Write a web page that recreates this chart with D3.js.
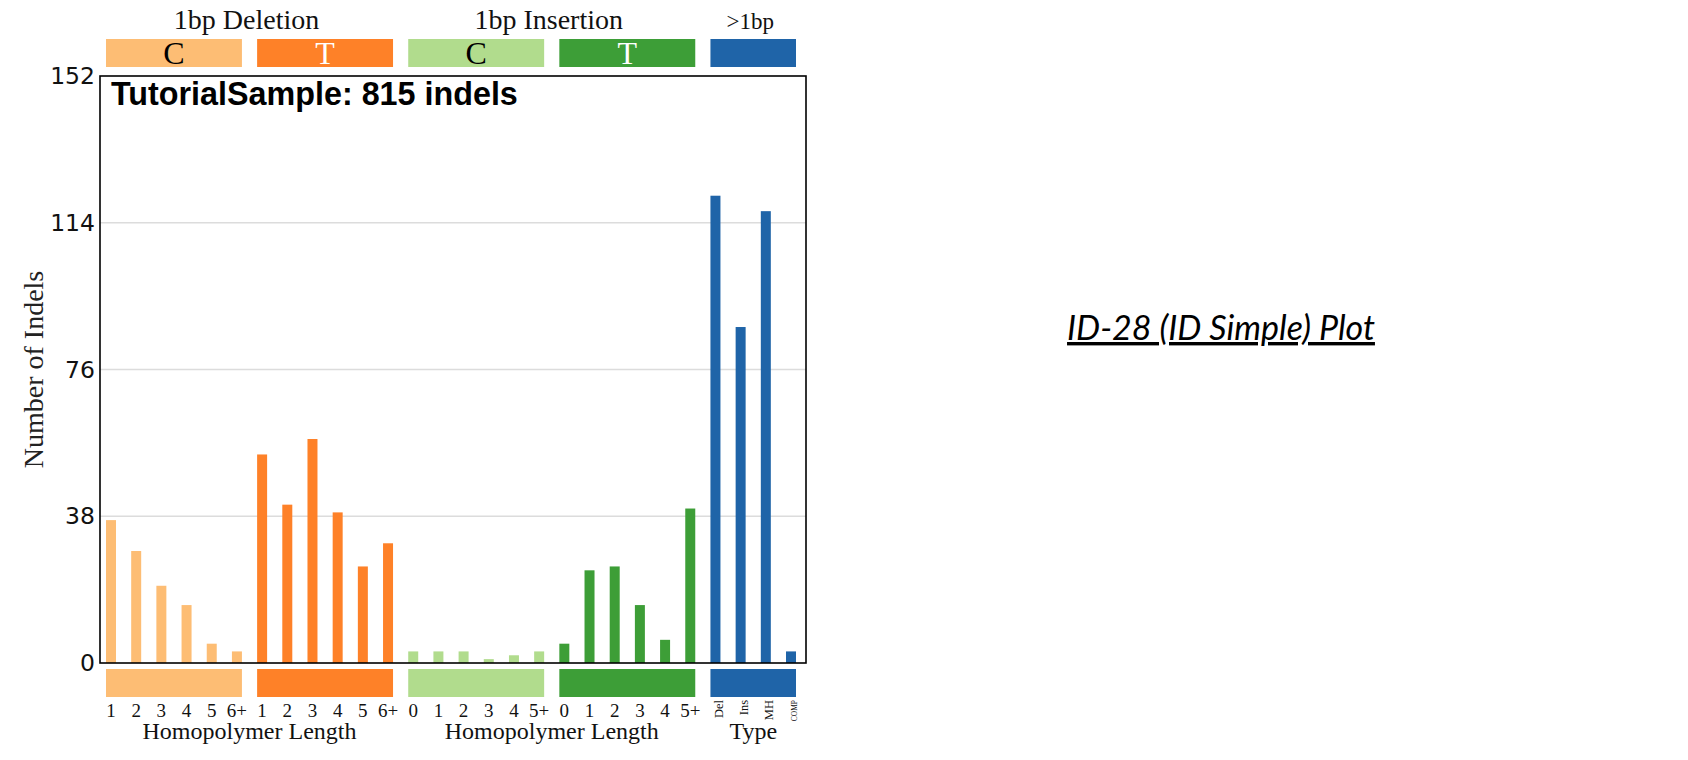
<!DOCTYPE html>
<html>
<head>
<meta charset="utf-8">
<script src="https://cdn.jsdelivr.net/npm/d3@7"></script>
<style>
    body { margin: 0; background: #fff; }
    svg { display: block; }
</style>
</head>
<body>
<svg id="chart" width="1688" height="760"></svg>
<script>
// ---- data ----
const sampleTitle = "TutorialSample: 815 indels";
const yTicks = [0, 38, 76, 114, 152];

const delCLabels = ["1", "2", "3", "4", "5", "6+"];
const delCValues = [37, 29, 20, 15, 5, 3];
const delTLabels = ["1", "2", "3", "4", "5", "6+"];
const delTValues = [54, 41, 58, 39, 25, 31];
const insCLabels = ["0", "1", "2", "3", "4", "5+"];
const insCValues = [3, 3, 3, 1, 2, 3];
const insTLabels = ["0", "1", "2", "3", "4", "5+"];
const insTValues = [5, 24, 25, 15, 6, 40];
const otherLabels = ["Del", "Ins", "MH", "COMP"];
const otherValues = [121, 87, 117, 3];

const groups = [
    { key: "delC", header: "C", labels: delCLabels, values: delCValues, color: "#fdbd74", text: "#000" },
    { key: "delT", header: "T", labels: delTLabels, values: delTValues, color: "#fe8128", text: "#fff" },
    { key: "insC", header: "C", labels: insCLabels, values: insCValues, color: "#b1dc8d", text: "#000" },
    { key: "insT", header: "T", labels: insTLabels, values: insTValues, color: "#3d9e37", text: "#fff" },
    { key: "other", header: "", labels: otherLabels, values: otherValues, color: "#1f64a8", text: "#fff" }
];

const superHeaders = [
    { text: "1bp Deletion", from: "delC", to: "delT", size: 28 },
    { text: "1bp Insertion", from: "insC", to: "insT", size: 28 },
    { text: ">1bp", from: "other", to: "other", size: 23 }
];
const xTitles = [
    { text: "Homopolymer Length", from: "delC", to: "delT" },
    { text: "Homopolymer Length", from: "insC", to: "insT" },
    { text: "Type", from: "other", to: "other" }
];

// flatten to one row per bar
let bars = [];
groups.forEach(g => {
    g.labels.forEach((lab, i) => {
        bars.push({ id: g.key + "_" + i, group: g.key, label: lab, value: g.values[i], color: g.color });
    });
});

// ---- layout ----
const frame = { left: 100, right: 806, top: 76, bottom: 663 };
const serif = "'Liberation Serif', 'Times New Roman', serif";

const svg = d3.select("#chart");

let x = d3.scaleBand()
    .domain(bars.map(d => d.id))
    .range([106, 796])
    .paddingInner(0.603)
    .paddingOuter(0);

let y = d3.scaleLinear()
    .domain([0, 152])
    .range([frame.bottom, frame.top]);

// grid lines
svg.append("g")
    .selectAll("line")
    .data(yTicks.filter(v => v > 0 && v < 152))
    .join("line")
    .attr("x1", frame.left)
    .attr("x2", frame.right)
    .attr("y1", d => y(d))
    .attr("y2", d => y(d))
    .attr("stroke", "#dcdcdc")
    .attr("stroke-width", 1.5);

// y axis labels
let yAxis = d3.axisLeft(y).tickValues(yTicks).tickSize(0).tickPadding(4);
let gY = svg.append("g")
    .attr("transform", `translate(${frame.left - 1},0)`)
    .call(yAxis);
gY.select(".domain").remove();
gY.selectAll("text")
    .attr("font-family", "'DejaVu Sans', sans-serif")
    .attr("font-size", "23.5px")
    .attr("fill", "#111");

// bars
svg.append("g")
    .selectAll("rect")
    .data(bars)
    .join("rect")
    .attr("x", d => x(d.id))
    .attr("width", x.bandwidth())
    .attr("y", d => y(d.value))
    .attr("height", d => y(0) - y(d.value))
    .attr("fill", d => d.color);

// frame
svg.append("rect")
    .attr("x", frame.left)
    .attr("y", frame.top)
    .attr("width", frame.right - frame.left)
    .attr("height", frame.bottom - frame.top)
    .attr("fill", "none")
    .attr("stroke", "#000")
    .attr("stroke-width", 1.6);

// group extents in pixels
function groupSpan(key) {
    let ids = bars.filter(b => b.group === key).map(b => b.id);
    return [x(ids[0]), x(ids[ids.length - 1]) + x.bandwidth()];
}

// coloured strips above and below
groups.forEach(g => {
    let [x0, x1] = groupSpan(g.key);
    [39, 669].forEach(top => {
        svg.append("rect")
            .attr("x", x0)
            .attr("y", top)
            .attr("width", x1 - x0)
            .attr("height", 28)
            .attr("fill", g.color);
    });
    if (g.header) {
        svg.append("text")
            .attr("x", (x0 + x1) / 2)
            .attr("y", 64)
            .attr("text-anchor", "middle")
            .attr("font-family", serif)
            .attr("font-size", "32px")
            .attr("fill", g.text)
            .text(g.header);
    }
});

superHeaders.forEach(h => {
    let a = groupSpan(h.from), b = groupSpan(h.to);
    svg.append("text")
        .attr("x", (a[0] + b[1]) / 2 - 3)
        .attr("y", 29)
        .attr("text-anchor", "middle")
        .attr("font-family", serif)
        .attr("font-size", h.size + "px")
        .attr("fill", "#111")
        .text(h.text);
});

// tick labels under the strips
let tickRows = bars.filter(b => b.group !== "other");
svg.append("g")
    .selectAll("text")
    .data(tickRows)
    .join("text")
    .attr("x", d => x(d.id) + x.bandwidth() / 2)
    .attr("y", 717)
    .attr("text-anchor", "middle")
    .attr("font-family", serif)
    .attr("font-size", "19px")
    .attr("fill", "#111")
    .text(d => d.label);

// rotated type labels
svg.append("g")
    .selectAll("text")
    .data(bars.filter(b => b.group === "other"))
    .join("text")
    .attr("transform", d => `translate(${x(d.id) + x.bandwidth() / 2 + 3},700) rotate(-90)`)
    .attr("dy", "0.35em")
    .attr("text-anchor", "end")
    .attr("font-family", serif)
    .attr("font-size", d => d.label === "COMP" ? "7.5px" : "12.5px")
    .attr("fill", "#111")
    .text(d => d.label);

xTitles.forEach(t => {
    let a = groupSpan(t.from), b = groupSpan(t.to);
    svg.append("text")
        .attr("x", (a[0] + b[1]) / 2)
        .attr("y", 739)
        .attr("text-anchor", "middle")
        .attr("font-family", serif)
        .attr("font-size", "24px")
        .attr("fill", "#111")
        .text(t.text);
});

// y title
svg.append("text")
    .attr("transform", `translate(43,${(frame.top + frame.bottom) / 2}) rotate(-90)`)
    .attr("text-anchor", "middle")
    .attr("font-family", serif)
    .attr("font-size", "28px")
    .attr("fill", "#222")
    .text("Number of Indels");

// sample title inside the frame
svg.append("text")
    .attr("x", 111)
    .attr("y", 105)
    .attr("font-family", "'Liberation Sans', Arial, sans-serif")
    .attr("font-weight", "bold")
    .attr("font-size", "32.3px")
    .attr("fill", "#000")
    .text(sampleTitle);

// side caption
svg.append("text")
    .attr("x", 1221)
    .attr("y", 340)
    .attr("text-anchor", "middle")
    .attr("font-family", "Lato, 'Open Sans', sans-serif")
    .attr("font-style", "italic")
    .attr("font-size", "34px")
    .attr("text-decoration", "underline")
    .attr("fill", "#000")
    .text("ID-28 (ID Simple) Plot");
</script>
</body>
</html>
